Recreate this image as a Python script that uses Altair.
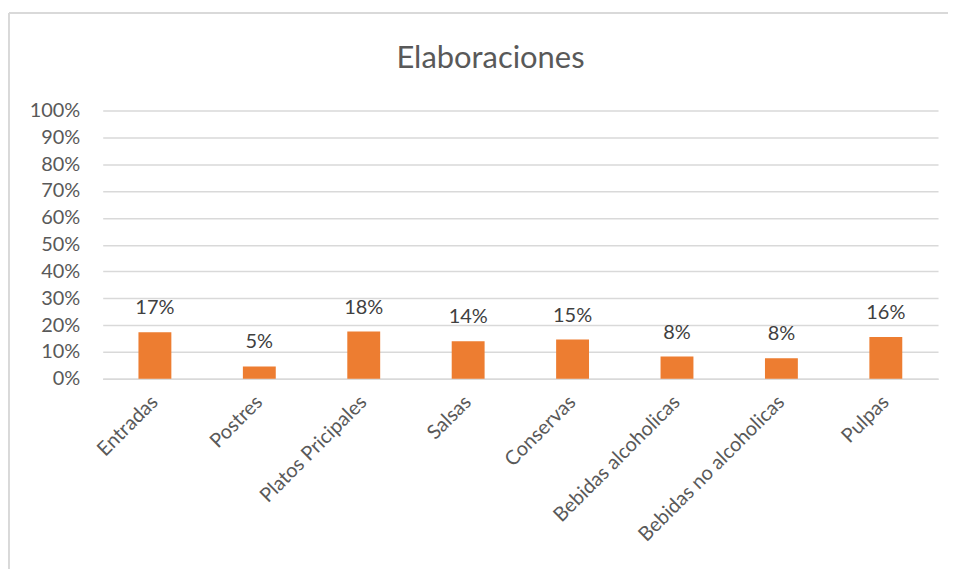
import altair as alt
import pandas as pd

categories = ["Entradas", "Postres", "Platos Pricipales", "Salsas", "Conservas",
              "Bebidas alcoholicas", "Bebidas no alcoholicas", "Pulpas"]
values = [0.173, 0.046, 0.176, 0.140, 0.146, 0.083, 0.076, 0.156]
y_ticks = [0.0, 0.1, 0.2, 0.3, 0.4, 0.5, 0.6, 0.7, 0.8, 0.9, 1.0]

df = pd.DataFrame({"cat": categories, "val": values})

FONT = "Lato"
W, H = 838, 269

x = alt.X("cat:N", sort=categories, title=None,
          scale=alt.Scale(paddingInner=0.685, paddingOuter=0.3425),
          axis=alt.Axis(labelAngle=-45, labelAlign="right", labelBaseline="middle",
                        labelPadding=20, labelLimit=400, ticks=False, domain=True,
                        domainColor="#d9d9d9", domainWidth=1.5, labelFont=FONT,
                        labelFontSize=20, labelColor="#595959", grid=False))
y = alt.Y("val:Q", title=None,
          scale=alt.Scale(domain=[0, 1], nice=False),
          axis=alt.Axis(values=y_ticks, format=".0%", ticks=False, domain=False,
                        labelOverlap=False, labelPadding=23, labelFont=FONT,
                        labelFontSize=20, labelColor="#595959",
                        gridColor="#d9d9d9", gridWidth=1.5))

frame_left = alt.Chart(df).mark_rule(color="#d9d9d9", strokeWidth=1.5).encode(
    x=alt.value(-94), y=alt.value(-98), y2=alt.value(500))
frame_top = alt.Chart(df).mark_rule(color="#d9d9d9", strokeWidth=1.5).encode(
    x=alt.value(-94), x2=alt.value(900), y=alt.value(-98))

bars = alt.Chart(df).mark_bar(color="#ED7D31").encode(x=x, y=y)

labels = alt.Chart(df).mark_text(font=FONT, fontSize=20, color="#404040",
                                 baseline="alphabetic", dy=-18).encode(
    x=x, y=y, text=alt.Text("val:Q", format=".0%"))

chart = alt.layer(frame_left, frame_top, bars, labels).properties(
    width=W, height=H,
    title=alt.TitleParams("Elaboraciones", font=FONT, fontSize=31, fontWeight="normal",
                          color="#595959", anchor="middle", dx=-30, offset=-87,
                          baseline="alphabetic"),
    autosize=alt.AutoSizeParams(type="none"),
    padding={"left": 95, "top": 102, "right": 10, "bottom": 190},
).configure(background="white").configure_view(stroke=None)

chart.save("out.html", embed_options={"renderer": "svg", "actions": False})
